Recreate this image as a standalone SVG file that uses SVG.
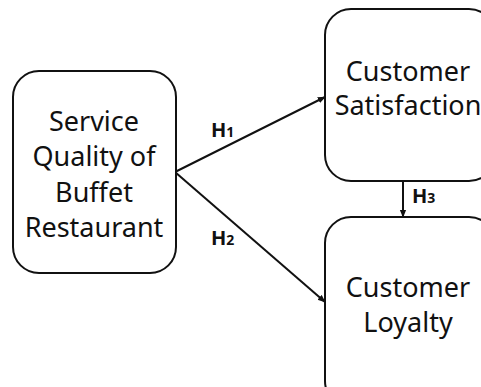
<svg xmlns="http://www.w3.org/2000/svg" width="481" height="387" viewBox="0 0 481 387">
<defs>
<style>
.box{fill:#fff;stroke:#111;stroke-width:2}
.t{font-family:"Noto Sans","Open Sans",sans-serif;font-size:27px;fill:#111;text-anchor:middle}
.h{font-family:"Noto Sans","Open Sans",sans-serif;font-size:20px;font-weight:bold;fill:#111}
.c{stroke:#111;stroke-width:2;fill:none;marker-end:url(#ah)}
</style>
<marker id="ah" viewBox="0 0 10 10" refX="9" refY="5" markerWidth="8" markerHeight="8" markerUnits="userSpaceOnUse" orient="auto">
<path d="M0,1 L10,5 L0,9 Z" fill="#111"/>
</marker>
</defs>
<rect width="481" height="387" fill="#fff"/>
<g id="connectors">
<line class="c" x1="175" y1="172" x2="325" y2="97"/>
<line class="c" x1="175" y1="172" x2="325" y2="302"/>
<line class="c" x1="403" y1="181" x2="403" y2="217"/>
</g>
<g id="service-quality">
<rect class="box" x="13" y="71" width="163" height="202" rx="26"/>
<text class="t" x="94" y="131">Service</text>
<text class="t" x="94" y="166">Quality of</text>
<text class="t" x="94" y="202">Buffet</text>
<text class="t" x="94" y="237">Restaurant</text>
</g>
<g id="customer-satisfaction">
<rect class="box" x="325" y="9" width="170" height="172" rx="26"/>
<text class="t" x="408" y="81">Customer</text>
<text class="t" x="408" y="115">Satisfaction</text>
</g>
<g id="customer-loyalty">
<rect class="box" x="325" y="217" width="170" height="190" rx="26"/>
<text class="t" x="408" y="297">Customer</text>
<text class="t" x="408" y="332">Loyalty</text>
</g>
<g id="labels">
<text class="h" x="211" y="137">H<tspan font-size="14">1</tspan></text>
<text class="h" x="211" y="245">H<tspan font-size="14">2</tspan></text>
<text class="h" x="412" y="203">H<tspan font-size="14">3</tspan></text>
</g>
</svg>
